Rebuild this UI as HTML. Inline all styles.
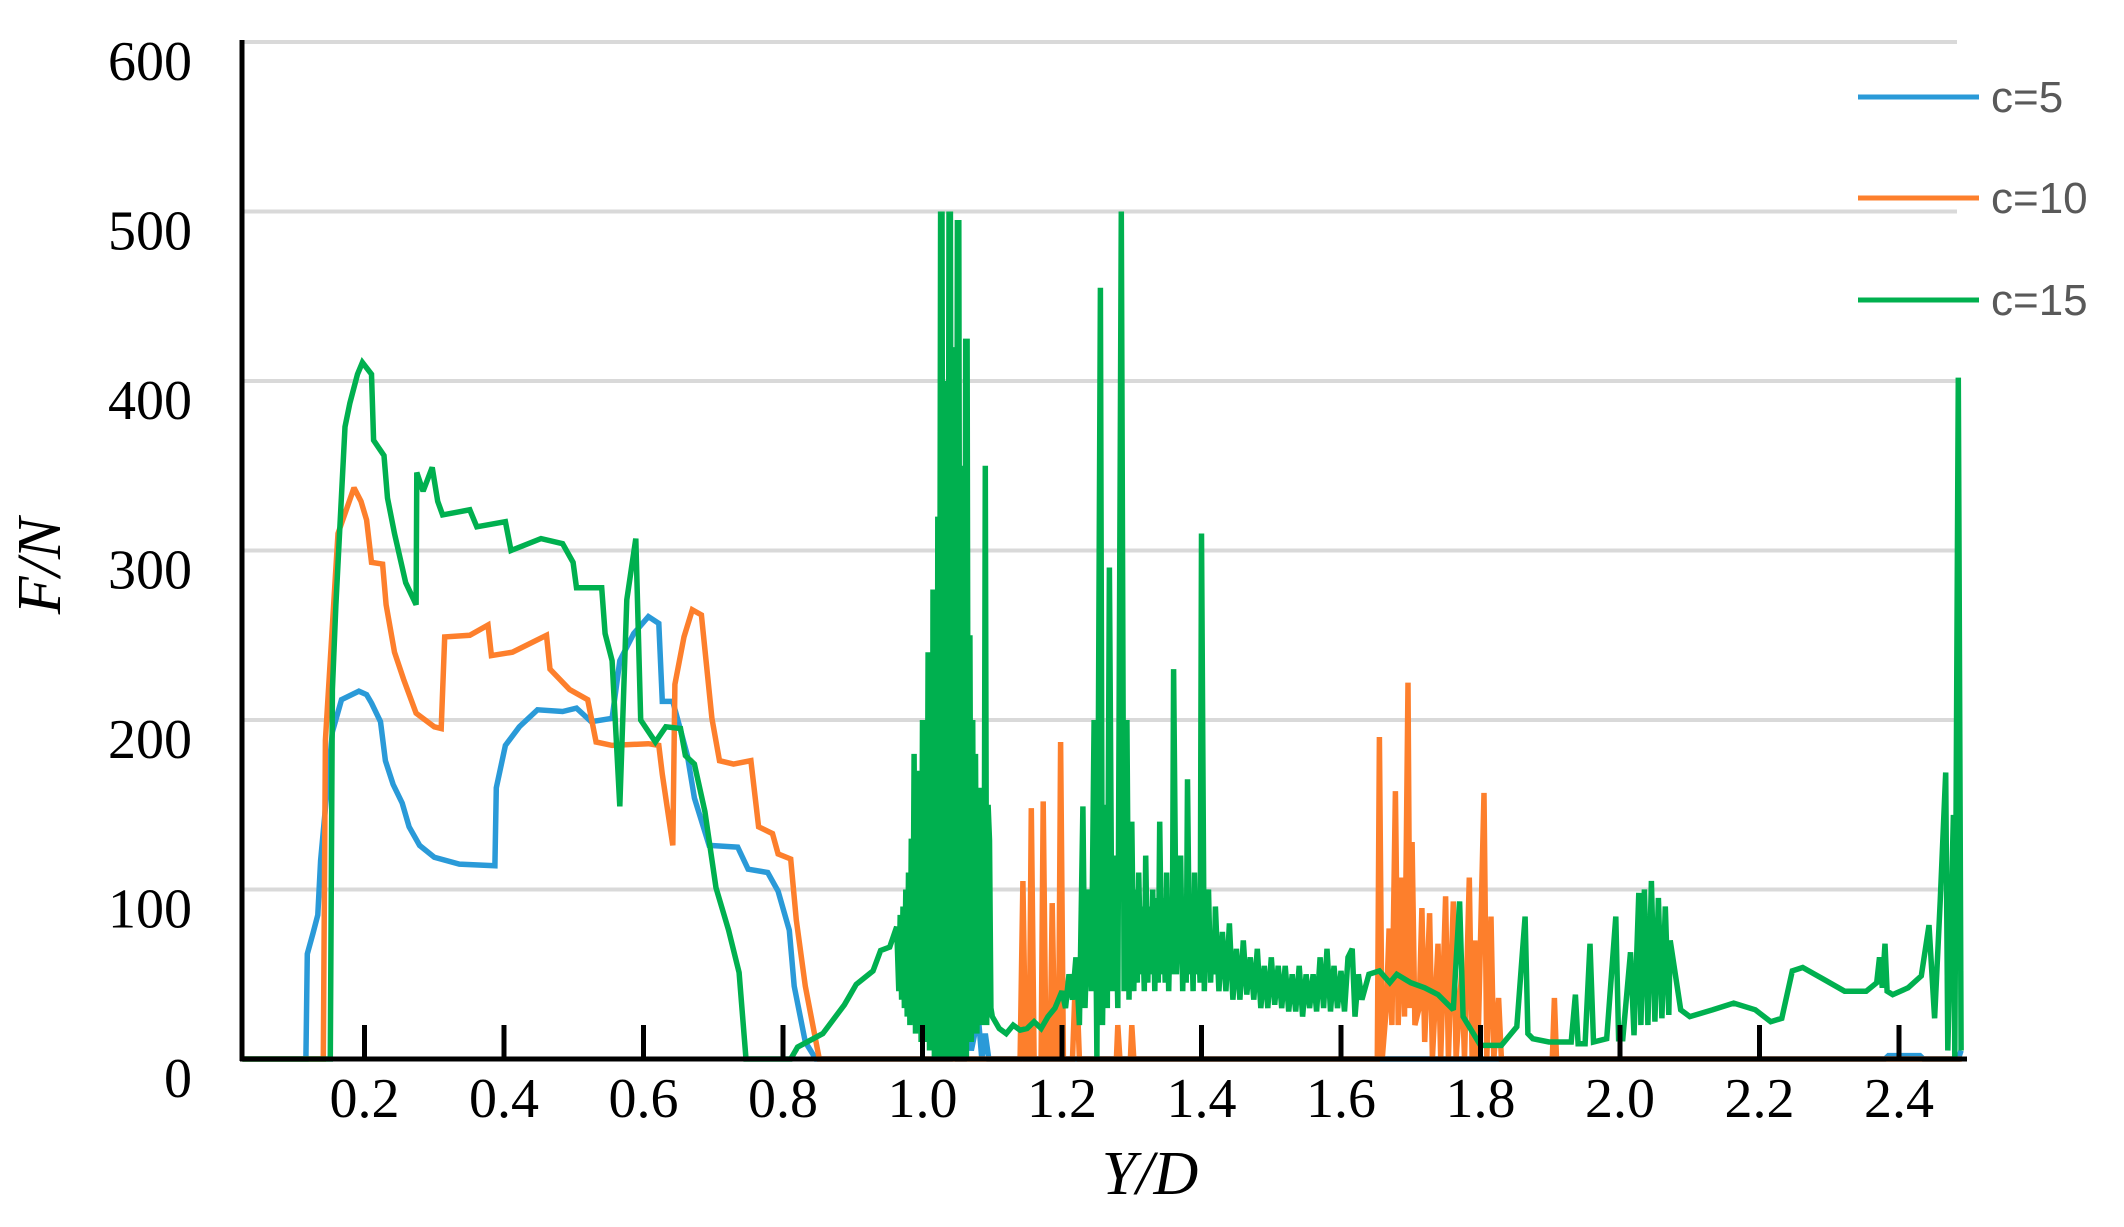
<!DOCTYPE html>
<html><head><meta charset="utf-8"><style>
html,body{margin:0;padding:0;background:#fff;}
svg{display:block;}
</style></head><body>
<svg id="chart" width="2124" height="1227" viewBox="0 0 2124 1227" xmlns="http://www.w3.org/2000/svg">
<g id="grid"></g>
<g id="series"></g>
<g id="axes"></g>
<g id="legend"></g>
<text x="0" y="0" transform="translate(60,566) rotate(-90)" text-anchor="middle" font-family="Liberation Serif, serif" font-style="italic" font-size="62" fill="#000">F/N</text>
<text x="1150" y="1194" text-anchor="middle" font-family="Liberation Serif, serif" font-style="italic" font-size="62" fill="#000">Y/D</text>
</svg>
<script>
const yTicks = [0,100,200,300,400,500,600];
const xTicks = [0.2,0.4,0.6,0.8,1.0,1.2,1.4,1.6,1.8,2.0,2.2,2.4];
const xTickLabels = ["0.2","0.4","0.6","0.8","1.0","1.2","1.4","1.6","1.8","2.0","2.2","2.4"];
const seriesNames = ["c=5","c=10","c=15"];
const seriesColors = ["#2a9ad8","#fd7f2c","#00b04f"];
const blueData = [[0.025,0],[0.116,0],[0.118,62],[0.126,74],[0.133,85],[0.137,117],[0.154,193],[0.167,212],[0.192,217],[0.203,215],[0.21,210],[0.223,199],[0.23,176],[0.241,162],[0.254,151],[0.264,137],[0.279,126],[0.3,119],[0.336,115],[0.387,114],[0.389,160],[0.402,185],[0.422,196],[0.448,206],[0.484,205],[0.504,207],[0.525,199],[0.555,201],[0.566,235],[0.586,251],[0.607,261],[0.622,257],[0.627,211],[0.642,211],[0.663,179],[0.673,154],[0.694,126],[0.735,125],[0.75,112],[0.778,110],[0.793,99],[0.809,76],[0.816,43],[0.832,10],[0.847,0],[1.04,0],[1.045,15],[1.05,0],[1.06,0],[1.065,20],[1.07,5],[1.08,25],[1.085,0],[1.09,15],[1.095,0],[2.38,0],[2.385,2],[2.43,2],[2.435,0],[2.485,0],[2.489,5]];
const orangeData = [[0.025,0],[0.141,0],[0.144,188],[0.162,310],[0.185,337],[0.195,329],[0.203,318],[0.21,293],[0.226,292],[0.231,268],[0.243,240],[0.256,224],[0.274,204],[0.3,196],[0.31,195],[0.315,249],[0.351,250],[0.377,256],[0.382,238],[0.412,240],[0.461,250],[0.466,230],[0.494,218],[0.52,212],[0.532,187],[0.555,185],[0.607,186],[0.622,185],[0.627,168],[0.642,126],[0.645,221],[0.658,249],[0.67,265],[0.683,262],[0.698,201],[0.709,176],[0.729,174],[0.754,176],[0.765,137],[0.785,133],[0.793,121],[0.811,118],[0.819,82],[0.832,43],[0.852,0],[1.14,0],[1.144,105],[1.148,0],[1.153,0],[1.156,148],[1.16,0],[1.17,0],[1.173,152],[1.177,0],[1.183,0],[1.186,92],[1.19,0],[1.195,0],[1.198,187],[1.202,0],[1.215,0],[1.22,56],[1.225,0],[1.278,0],[1.28,20],[1.283,0],[1.298,0],[1.30,20],[1.303,0],[1.652,0],[1.655,190],[1.659,0],[1.665,30],[1.669,77],[1.673,20],[1.678,158],[1.682,20],[1.687,107],[1.691,25],[1.696,222],[1.699,30],[1.702,128],[1.706,20],[1.712,30],[1.716,89],[1.72,10],[1.727,86],[1.731,0],[1.739,68],[1.743,0],[1.75,96],[1.754,0],[1.761,93],[1.765,0],[1.773,52],[1.777,0],[1.784,107],[1.788,0],[1.792,70],[1.796,0],[1.805,157],[1.809,0],[1.815,84],[1.819,0],[1.826,36],[1.83,0],[1.903,0],[1.906,36],[1.909,0],[2.49,0]];
const greenData = [[0.025,0],[0.151,0],[0.154,218],[0.159,268],[0.172,373],[0.179,387],[0.19,404],[0.197,411],[0.21,404],[0.213,365],[0.228,356],[0.233,331],[0.243,310],[0.259,281],[0.274,268],[0.275,346],[0.284,335],[0.297,349],[0.305,329],[0.312,321],[0.351,324],[0.361,314],[0.402,317],[0.41,300],[0.453,307],[0.484,304],[0.499,293],[0.504,278],[0.54,278],[0.545,251],[0.555,235],[0.566,149],[0.576,271],[0.589,307],[0.596,200],[0.617,187],[0.632,196],[0.653,195],[0.66,179],[0.673,174],[0.688,146],[0.704,101],[0.722,76],[0.737,51],[0.747,0],[0.811,0],[0.821,7],[0.857,15],[0.888,32],[0.905,44],[0.929,52],[0.94,64],[0.953,66],[0.963,78],[0.966,40],[0.968,85],[0.970,35],[0.972,90],[0.974,30],[0.976,100],[0.978,25],[0.98,110],[0.982,20],[0.984,130],[0.986,25],[0.988,180],[0.990,15],[0.992,150],[0.994,20],[0.996,170],[0.998,10],[1.000,200],[1.002,15],[1.004,180],[1.006,10],[1.008,240],[1.010,5],[1.012,200],[1.014,5],[1.015,277],[1.017,0],[1.019,250],[1.021,0],[1.022,320],[1.024,0],[1.026,500],[1.027,0],[1.028,500],[1.030,0],[1.032,370],[1.033,0],[1.034,400],[1.036,0],[1.038,500],[1.039,0],[1.040,500],[1.042,10],[1.044,360],[1.045,0],[1.046,420],[1.048,0],[1.050,495],[1.051,0],[1.052,495],[1.054,0],[1.056,300],[1.057,0],[1.058,350],[1.060,5],[1.062,425],[1.063,0],[1.064,425],[1.066,10],[1.068,250],[1.070,10],[1.072,200],[1.074,15],[1.076,180],[1.078,15],[1.080,120],[1.082,160],[1.084,20],[1.086,140],[1.088,20],[1.09,350],[1.092,20],[1.094,150],[1.096,129],[1.098,30],[1.10,25],[1.11,18],[1.12,15],[1.13,20],[1.14,17],[1.15,18],[1.16,22],[1.17,18],[1.18,25],[1.19,30],[1.20,40],[1.205,30],[1.21,50],[1.215,35],[1.22,60],[1.225,20],[1.23,149],[1.233,30],[1.238,100],[1.242,40],[1.246,200],[1.25,0],[1.255,455],[1.258,20],[1.262,150],[1.265,30],[1.268,290],[1.272,40],[1.276,120],[1.28,30],[1.285,500],[1.289,40],[1.293,200],[1.296,35],[1.30,140],[1.303,40],[1.305,100],[1.308,45],[1.31,110],[1.313,50],[1.315,90],[1.318,40],[1.32,120],[1.323,45],[1.325,90],[1.328,50],[1.33,100],[1.333,40],[1.335,95],[1.338,45],[1.34,140],[1.343,50],[1.345,95],[1.348,45],[1.35,110],[1.353,40],[1.355,80],[1.358,50],[1.36,230],[1.364,50],[1.367,90],[1.37,120],[1.373,40],[1.375,85],[1.378,45],[1.38,165],[1.383,50],[1.385,90],[1.388,40],[1.39,110],[1.393,50],[1.395,80],[1.398,45],[1.40,310],[1.404,40],[1.407,85],[1.41,100],[1.413,45],[1.415,70],[1.418,50],[1.42,90],[1.425,40],[1.43,75],[1.435,40],[1.44,80],[1.445,35],[1.45,65],[1.455,35],[1.46,70],[1.465,38],[1.47,60],[1.475,35],[1.48,65],[1.485,30],[1.49,55],[1.495,30],[1.50,60],[1.505,32],[1.51,55],[1.515,30],[1.52,55],[1.525,28],[1.53,50],[1.535,28],[1.54,55],[1.545,25],[1.55,50],[1.555,30],[1.56,50],[1.565,28],[1.57,60],[1.575,30],[1.58,65],[1.585,28],[1.59,55],[1.595,30],[1.60,52],[1.605,28],[1.61,60],[1.616,65],[1.62,25],[1.625,50],[1.63,35],[1.64,50],[1.655,52],[1.67,45],[1.68,50],[1.7,45],[1.72,42],[1.739,38],[1.761,29],[1.77,93],[1.775,25],[1.784,19],[1.8,8],[1.83,8],[1.852,19],[1.864,84],[1.868,15],[1.875,12],[1.898,10],[1.93,10],[1.936,38],[1.94,9],[1.95,9],[1.957,68],[1.962,10],[1.981,12],[1.994,84],[1.998,12],[2.004,12],[2.015,63],[2.02,14],[2.027,98],[2.03,20],[2.035,100],[2.04,20],[2.045,105],[2.05,22],[2.055,95],[2.06,24],[2.065,90],[2.07,26],[2.072,70],[2.087,29],[2.10,25],[2.133,29],[2.163,33],[2.194,29],[2.216,22],[2.232,24],[2.247,52],[2.262,54],[2.292,47],[2.322,40],[2.353,40],[2.368,45],[2.372,60],[2.376,42],[2.38,68],[2.383,40],[2.391,38],[2.413,42],[2.432,49],[2.443,79],[2.451,24],[2.459,93],[2.467,169],[2.47,5],[2.478,144],[2.48,0],[2.485,402],[2.489,5]];

const NS = "http://www.w3.org/2000/svg";
function xs(v){ return 225 + v * 697.5; }
function ys(f){ return 1059 - f * 1.695; }
function mk(tag, attrs, parent){
  const e = document.createElementNS(NS, tag);
  for (const k in attrs) e.setAttribute(k, attrs[k]);
  parent.appendChild(e);
  return e;
}
const grid = document.getElementById('grid');
const axes = document.getElementById('axes');
const series = document.getElementById('series');
const legend = document.getElementById('legend');

yTicks.forEach(function(t){
  if (t > 0) {
    const gl = mk('line', {x1:244, x2:1957, y1:ys(t), y2:ys(t), stroke:'#d9d9d9', 'stroke-width':4}, grid);
    
    
  }
  const lb = mk('text', {x:192, y:ys(t) + 38, 'text-anchor':'end', 'font-family':'Liberation Serif, serif', 'font-size':56, fill:'#000'}, axes);
  lb.textContent = String(t);
  
  
});

const yAxis = mk('line', {x1:242, x2:242, y1:40, y2:1061, stroke:'#000', 'stroke-width':5}, axes);


const xAxis = mk('line', {x1:240, x2:1967, y1:1059, y2:1059, stroke:'#000', 'stroke-width':5}, axes);



xTicks.forEach(function(t, i){
  const tk = mk('line', {x1:xs(t), x2:xs(t), y1:1025, y2:1059, stroke:'#000', 'stroke-width':5}, axes);
  
  
  const lb = mk('text', {x:xs(t), y:1117, 'text-anchor':'middle', 'font-family':'Liberation Serif, serif', 'font-size':56, fill:'#000'}, axes);
  lb.textContent = xTickLabels[i];
  
  
});

const allData = [blueData, orangeData, greenData];
allData.forEach(function(d, i){
  const pts = d.map(function(p){ return xs(p[0]).toFixed(1) + ',' + ys(p[1]).toFixed(1); }).join(' ');
  const pl = mk('polyline', {points:pts, fill:'none', stroke:seriesColors[i], 'stroke-width':5.5, 'stroke-linejoin':'miter', 'stroke-miterlimit':2}, series);
  
  
});

const legendY = [97, 198, 300];
seriesNames.forEach(function(n, i){
  const ln = mk('line', {x1:1858, x2:1979, y1:legendY[i], y2:legendY[i], stroke:seriesColors[i], 'stroke-width':5}, legend);
  
  
  const tx = mk('text', {x:1991, y:legendY[i] + 15, 'font-family':'Liberation Sans, sans-serif', 'font-size':44, fill:'#595959'}, legend);
  tx.textContent = n;
  
  
});
</script>
</body></html>
